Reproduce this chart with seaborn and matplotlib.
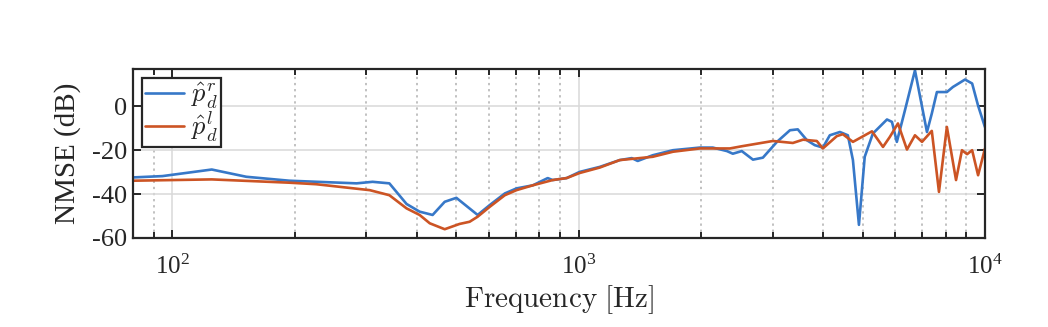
import numpy as np
import pandas as pd
import matplotlib
matplotlib.use("Agg")
import matplotlib.pyplot as plt
import seaborn as sns
from matplotlib.ticker import LogLocator, FixedLocator, NullFormatter

# Right ear estimate p_d^r
freq_r = [80, 94.5, 125, 152, 194, 284, 311, 342, 377, 406, 437, 468, 500, 564, 604, 658,
          703, 771, 839, 863, 934, 1005, 1127, 1262, 1351, 1397, 1521, 1706, 1986, 2138,
          2317, 2395, 2520, 2685, 2840, 3076, 3311, 3461, 3648, 3811, 3990, 4150, 4395,
          4597, 4731, 4895, 5058, 5297, 5738, 5902, 6068, 6353, 6724, 7197, 7397, 7614,
          8057, 8337, 8929, 9297, 9616, 10000]
nmse_r = [-32.4, -31.8, -28.8, -32.1, -33.9, -35.1, -34.4, -35.1, -44.5, -48, -49.5, -43.5,
          -41.7, -49.5, -45, -39.7, -37.4, -36, -32.7, -33.6, -32.7, -29.9, -27.6, -24.5,
          -23.6, -24.9, -22.3, -20, -18.8, -18.8, -20.4, -21.6, -20.4, -24.3, -23.4, -16.2,
          -10.9, -10.5, -15.5, -17.7, -18.8, -13.2, -11.7, -13.2, -24.5, -54, -23, -12.4,
          -6, -7.1, -16.2, -1.8, 16.4, -11.7, -3.3, 6.5, 6.5, 8.8, 12.2, 10.4, 0.3, -9.5]

# Left ear estimate p_d^l
freq_l = [80, 125, 194, 226, 306, 342, 377, 406, 430, 468, 509, 539, 564, 604, 658, 703,
          771, 863, 934, 1005, 1127, 1262, 1521, 1706, 1986, 2138, 2355, 2520, 3006, 3366,
          3565, 3855, 3990, 4317, 4467, 4731, 5270, 5610, 5834, 6106, 6426, 6724, 6998,
          7397, 7704, 8057, 8486, 8776, 9036, 9297, 9616, 10000]
nmse_l = [-33.9, -33.3, -34.8, -35.5, -38.2, -40.5, -46.5, -49.5, -53.3, -56, -53.6, -52.6,
          -50.3, -45.8, -40.5, -38.2, -36, -33.6, -32.7, -30.4, -27.9, -24.5, -23, -20.7,
          -19.2, -19.2, -19.2, -18.2, -15.8, -16.7, -15.2, -15.8, -19.2, -13.6, -12.7,
          -16.2, -11.4, -18.5, -13.9, -7.8, -19.7, -13.2, -16.2, -11.2, -39, -9.4, -33.6,
          -20, -21.8, -20, -31.4, -19.2]

labels = [r"$\hat{p}_d^r$", r"$\hat{p}_d^l$"]
colors = ["#3778C8", "#CC5424"]

df = pd.concat([
    pd.DataFrame({"f": freq_r, "nmse": nmse_r, "est": labels[0]}),
    pd.DataFrame({"f": freq_l, "nmse": nmse_l, "est": labels[1]}),
])

sns.set_style("ticks")
plt.rcParams["font.family"] = ["Liberation Serif", "DejaVu Serif"]
plt.rcParams["mathtext.fontset"] = "cm"
plt.rcParams["axes.unicode_minus"] = False

fig = plt.figure(figsize=(10.48, 3.27), dpi=100)
ax = fig.add_axes([133 / 1048, 1 - 238 / 327, 852 / 1048, 169 / 327])

sns.lineplot(data=df, x="f", y="nmse", hue="est", palette=colors, ax=ax,
             linewidth=1.9, sort=False, estimator=None, legend=True)

ax.set_xscale("log")
ax.set_xlim(80, 10000)
ax.set_ylim(-60, 17)
ax.set_yticks([-60, -40, -20, 0])
ax.xaxis.set_major_locator(FixedLocator([100, 1000, 10000]))
ax.xaxis.set_minor_locator(LogLocator(base=10, subs=np.arange(2, 10)))
ax.xaxis.set_minor_formatter(NullFormatter())

ax.grid(True, which="major", axis="both", color="#d9d9d9", linewidth=1.1, linestyle="-")
ax.grid(True, which="minor", axis="x", color="#b0b0b0", linewidth=1.1, linestyle=(0, (1.5, 2.5)))
ax.set_axisbelow(True)

for s in ax.spines.values():
    s.set_linewidth(1.6)
    s.set_color("#262626")
ax.tick_params(which="both", direction="in", top=True, right=True, color="#262626", width=1.4)
ax.tick_params(axis="y", labelsize=19, pad=4)
ax.tick_params(axis="x", labelsize=18, pad=12)
ax.tick_params(which="major", length=6)
ax.tick_params(which="minor", length=4)

ax.set_xlabel(r"$\mathrm{Frequency\ [Hz]}$", fontsize=21, labelpad=3)
ax.set_ylabel("NMSE (dB)", fontsize=21, labelpad=8)

leg = ax.legend(loc="upper left", fontsize=19, frameon=True, fancybox=False,
                edgecolor="#262626", framealpha=1, borderpad=0.1, handlelength=1.5,
                labelspacing=-0.05, handletextpad=0.25, borderaxespad=0.35, title=None)
leg.get_frame().set_linewidth(1.6)

fig.savefig("out.png", dpi=100)
